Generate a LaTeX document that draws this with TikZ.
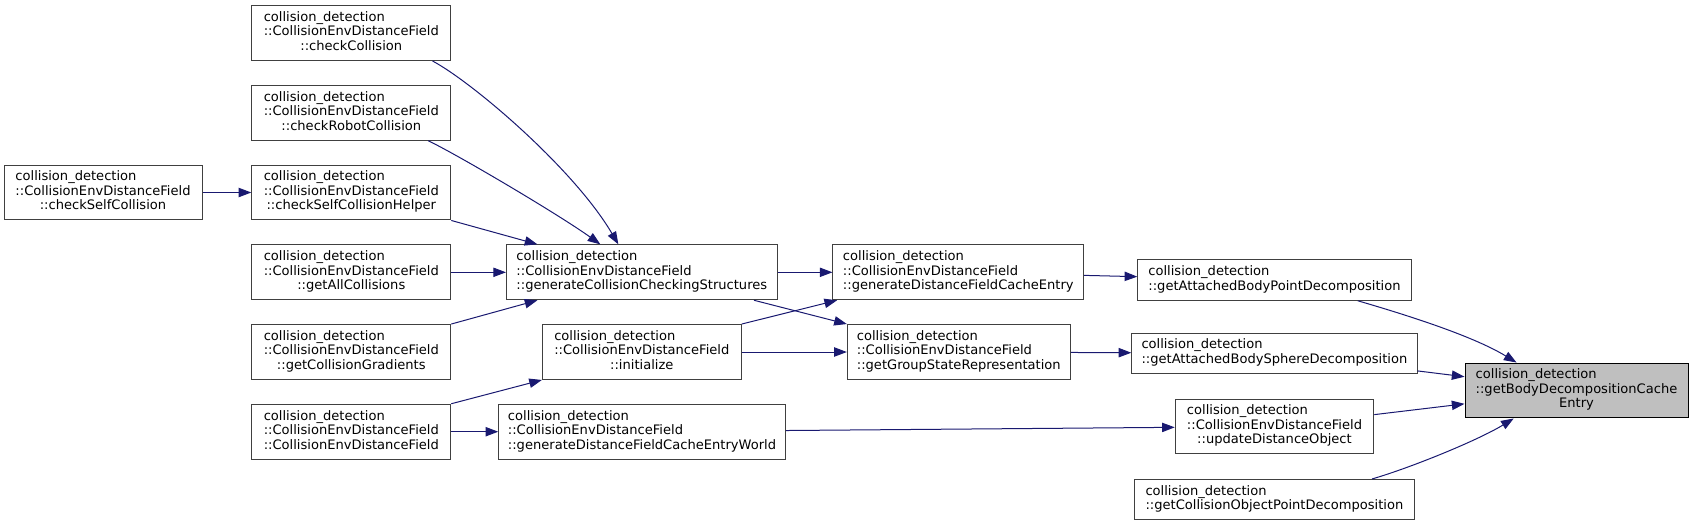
\documentclass[tikz,border=0pt]{standalone}
\usepackage{fontspec}
\setmainfont{DejaVu Sans}
\usetikzlibrary{arrows.meta,calc}
\definecolor{edgeblue}{HTML}{191970}
\definecolor{boxgray}{HTML}{BFBFBF}
\newcommand{\fn}[2]{\begin{tabular}{@{}l@{}}#1\\\multicolumn{1}{@{}c@{}}{#2}\end{tabular}}
\tikzset{
  fnbox/.style={draw=black!75, fill=white, line width=0.75pt, inner sep=0pt,
    minimum height=41.2pt, font=\fontsize{9.8}{10.9}\selectfont},
  fnbox2/.style={fnbox, minimum height=30.4pt},
  calls/.style={draw=edgeblue, line width=0.75pt, -{Triangle[length=9.5pt,width=7pt]}},
}

\begin{document}
\begin{tikzpicture}[x=0.75pt,y=-0.75pt]
    \useasboundingbox (0,0) rectangle (1693,526);
    \node[fnbox, minimum width=148.5pt] (selfcoll) at (103,192.5)
      {\fn{collision\_detection\\::CollisionEnvDistanceField}{::checkSelfCollision}};

    \node[fnbox, minimum width=149.25pt] (checkcoll) at (351.3,33)
      {\fn{collision\_detection\\::CollisionEnvDistanceField}{::checkCollision}};
    \node[fnbox, minimum width=149.25pt] (robotcoll) at (351.3,112.7)
      {\fn{collision\_detection\\::CollisionEnvDistanceField}{::checkRobotCollision}};
    \node[fnbox, minimum width=149.25pt] (selfhelper) at (351.3,192.5)
      {\fn{collision\_detection\\::CollisionEnvDistanceField}{::checkSelfCollisionHelper}};
    \node[fnbox, minimum width=149.25pt] (allcoll) at (351.3,272.3)
      {\fn{collision\_detection\\::CollisionEnvDistanceField}{::getAllCollisions}};
    \node[fnbox, minimum width=149.25pt] (gradients) at (351.3,352)
      {\fn{collision\_detection\\::CollisionEnvDistanceField}{::getCollisionGradients}};
    \node[fnbox, minimum width=149.25pt] (ctor) at (351.3,431.7)
      {\fn{collision\_detection\\::CollisionEnvDistanceField}{::CollisionEnvDistanceField}};

    \node[fnbox, minimum width=203pt] (structures) at (641.8,272.3)
      {\fn{collision\_detection\\::CollisionEnvDistanceField}{::generateCollisionCheckingStructures}};
    \node[fnbox, minimum width=149.1pt] (initialize) at (641.8,352)
      {\fn{collision\_detection\\::CollisionEnvDistanceField}{::initialize}};
    \node[fnbox, minimum width=214.9pt] (cacheworld) at (642,431.7)
      {\fn{collision\_detection\\::CollisionEnvDistanceField}{::generateDistanceFieldCacheEntryWorld}};

    \node[fnbox, minimum width=188pt] (cacheentry) at (958.3,272.3)
      {\fn{collision\_detection\\::CollisionEnvDistanceField}{::generateDistanceFieldCacheEntry}};
    \node[fnbox, minimum width=167.2pt] (groupstate) at (958.8,352)
      {\fn{collision\_detection\\::CollisionEnvDistanceField}{::getGroupStateRepresentation}};

    \node[fnbox2, minimum width=205.1pt] (pointdecomp) at (1274.5,280)
      {\fn{collision\_detection}{::getAttachedBodyPointDecomposition}};
    \node[fnbox2, minimum width=213.9pt] (spheredecomp) at (1274.4,353.3)
      {\fn{collision\_detection}{::getAttachedBodySphereDecomposition}};
    \node[fnbox, minimum width=148.9pt] (updateobj) at (1274.5,426.5)
      {\fn{collision\_detection\\::CollisionEnvDistanceField}{::updateDistanceObject}};
    \node[fnbox2, minimum width=209.9pt] (objdecomp) at (1274.4,499.7)
      {\fn{collision\_detection}{::getCollisionObjectPointDecomposition}};

    \node[fnbox, draw=black, fill=boxgray, minimum width=167.25pt] (bodycache) at (1576.5,390.5)
      {\fn{collision\_detection\\::getBodyDecompositionCache}{Entry}};

    % callers -> callees
    \draw[calls] (selfcoll) -- (selfhelper);
    \draw[calls] (checkcoll.-19.4) .. controls +(41,22) and +(-44,-75) .. (structures.130);
    \draw[calls] (robotcoll.-20.5) .. controls +(31,15) and +(-42,-30) .. (structures.146);
    \draw[calls] (selfhelper.south east) -- (structures.165);
    \draw[calls] (allcoll) -- (structures);
    \draw[calls] (gradients.north east) -- (structures.195);
    \draw[calls] (ctor.north east) -- (initialize.south west);
    \draw[calls] (ctor) -- (cacheworld);
    \draw[calls] (structures) -- (cacheentry);
    \draw[calls] (structures.-14) -- (groupstate.north west);
    \draw[calls] (initialize.north east) -- (cacheentry.193);
    \draw[calls] (initialize) -- (groupstate);
    \draw[calls] (cacheentry) -- (pointdecomp);
    \draw[calls] (groupstate) -- (spheredecomp);
    \draw[calls] (cacheworld) -- (updateobj);
    \draw[calls] (pointdecomp.-14) .. controls +(41,12) and +(-46,-28) .. (bodycache.155);
    \draw[calls] (spheredecomp) -- (bodycache);
    \draw[calls] (updateobj) -- (bodycache);
    \draw[calls] (objdecomp.12) .. controls +(38,-11) and +(-36,22) .. (bodycache.204);
\end{tikzpicture}
\end{document}
